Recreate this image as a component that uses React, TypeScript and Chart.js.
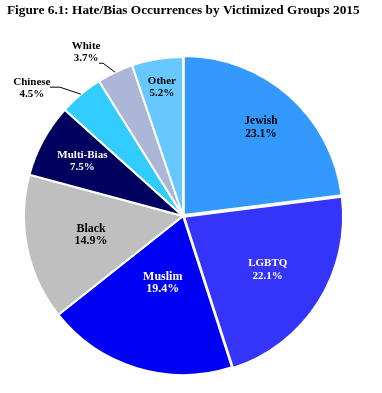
import React, { useEffect, useRef } from "react";
import { Chart, registerables } from "chart.js";

Chart.register(...registerables);

const TITLE = "Figure 6.1: Hate/Bias Occurrences by Victimized Groups 2015";
const categories = ["Jewish", "LGBTQ", "Muslim", "Black", "Multi-Bias", "Chinese", "White", "Other"];
const values = [23.1, 22.1, 19.4, 14.9, 7.5, 4.5, 3.7, 5.2];
const sliceColors = ["#3399ff", "#3434fb", "#0000f2", "#bfbfbf", "#00005e", "#33ccff", "#acb6d6", "#66c8ff"];
const explode = [5, 5, 0, 0, 0, 0, 0, 0];

// label styling / placement (inside labels: fraction of radius; outside: offset from edge)
const labelColors = ["#000", "#fff", "#fff", "#000", "#fff", "#000", "#000", "#000"];
const labelSizes = [11.5, 11, 12, 12, 11, 11, 11, 11];
const labelFrac = [0.71, 0.6, 0.44, 0.59, 0.72, 0, 0, 0.82];
const outside: Record<number, { dx: number; dy: number; ex: number; ey: number; sx: number }> = {
  5: { dx: -49, dy: -6, ex: -21, ey: -7, sx: -10 },
  6: { dx: -29, dy: -20, ex: -12, ey: -9, sx: -4 },
};

const FONT = "'Liberation Serif', 'Times New Roman', serif";
const TITLE_WIDTH = 353;

const labelPlugin = {
  id: "sliceLabels",
  afterDatasetsDraw(chart: any) {
    const ctx = chart.ctx as CanvasRenderingContext2D;
    ctx.save();
    // title
    ctx.fillStyle = "#000";
    ctx.font = `bold 15px ${FONT}`;
    const w15 = ctx.measureText(TITLE).width;
    const ts = Math.min(15, (15 * TITLE_WIDTH) / w15);
    ctx.font = `bold ${ts.toFixed(2)}px ${FONT}`;
    ctx.textAlign = "left";
    ctx.textBaseline = "alphabetic";
    ctx.fillText(TITLE, 7, 14);

    const meta = chart.getDatasetMeta(0);
    meta.data.forEach((arc: any, i: number) => {
      const p = arc.getProps(["x", "y", "startAngle", "endAngle", "outerRadius"], true);
      const off = arc.options.offset || 0;
      const mid = (p.startAngle + p.endAngle) / 2;
      const lines = [categories[i], values[i].toFixed(1) + "%"];
      ctx.font = `bold ${labelSizes[i]}px ${FONT}`;
      ctx.textAlign = "center";
      ctx.textBaseline = "middle";
      const lh = 12.5;
      let cx: number, cy: number;
      if (outside[i]) {
        const o = outside[i];
        const exx = p.x + Math.cos(mid) * p.outerRadius;
        const eyy = p.y + Math.sin(mid) * p.outerRadius;
        cx = exx + o.dx;
        cy = eyy + o.dy;
        const elx = exx + o.ex;
        const ely = eyy + o.ey;
        ctx.strokeStyle = "#000";
        ctx.lineWidth = 1;
        ctx.beginPath();
        ctx.moveTo(elx + o.sx, ely);
        ctx.lineTo(elx, ely);
        ctx.lineTo(exx, eyy);
        ctx.stroke();
      } else {
        const r = labelFrac[i] * p.outerRadius + off;
        cx = p.x + Math.cos(mid) * r;
        cy = p.y + Math.sin(mid) * r;
      }
      ctx.fillStyle = labelColors[i];
      ctx.fillText(lines[0], cx, cy - lh / 2);
      ctx.fillText(lines[1], cx, cy + lh / 2);
    });
    ctx.restore();
  },
};

export default function App() {
  const ref = useRef<HTMLCanvasElement>(null);
  useEffect(() => {
    if (!ref.current) return;
    const chart = new Chart(ref.current, {
      type: "pie",
      data: {
        labels: categories,
        datasets: [
          {
            data: values,
            backgroundColor: sliceColors,
            borderColor: "#ffffff",
            borderWidth: 2,
            offset: explode,
          },
        ],
      },
      options: {
        responsive: false,
        animation: false,
        radius: 159,
        layout: { padding: { left: 0, right: 16, top: 39, bottom: 0 } },
        plugins: {
          legend: { display: false },
          tooltip: { enabled: false },
          title: { display: false },
        },
      } as any,
      plugins: [labelPlugin],
    });
    return () => chart.destroy();
  }, []);
  return (
    <div style={{ position: "fixed", left: 0, top: 0, width: 382, height: 393, background: "#fff" }}>
      <canvas ref={ref} width={382} height={393} />
    </div>
  );
}
